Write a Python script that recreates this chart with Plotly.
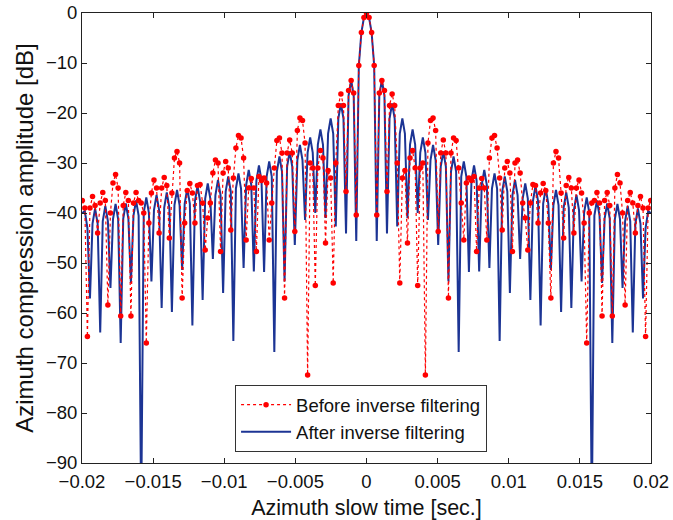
import numpy as np
import plotly.graph_objects as go

# Sampling interval of the read-off grid (ms). The chart is symmetric about t = 0,
# so values are listed for t >= 0 and mirrored.
SAMPLE_MS = 0.18

# "After inverse filtering" (blue), dB, t = 0 ... 19.98 ms
after_right = [
    0, -0.9, -3.9, -10.5,
    -45.6, -16.5, -13.4, -16.5,
    -44.1, -21.1, -18.1, -21.1,
    -42.7, -24.1, -21.1, -24.1,
    -41.0, -26.3, -23.3, -26.3,
    -40.0, -27.9, -24.9, -27.9,
    -41.4, -29.4, -26.4, -29.4,
    -46.4, -30.7, -27.7, -30.7,
    -53.7, -31.7, -28.7, -31.7,
    -67.8, -32.7, -29.7, -32.7,
    -51.8, -33.5, -30.5, -33.5,
    -51.7, -34.4, -31.4, -34.4,
    -51.0, -35.1, -32.1, -35.1,
    -65.6, -35.7, -32.7, -35.7,
    -56.0, -36.4, -33.4, -36.4,
    -49.2, -37.1, -34.1, -37.1,
    -57.4, -37.6, -34.6, -37.6,
    -62.5, -38.1, -35.1, -38.1,
    -51.4, -38.4, -35.4, -38.4,
    -59.8, -38.9, -35.9, -38.9,
    -59.0, -39.4, -36.4, -39.4,
    -53.7, -39.9, -36.9, -39.9,
    -100.0, -40.5, -37.5, -40.5,
    -54.0, -41.1, -38.1, -41.1,
    -66.0, -41.2, -38.2, -41.2,
    -55.0, -41.6, -38.6, -41.6,
    -63.9, -42.1, -39.1, -42.1,
    -57.1, -43.0, -39.6, -40.0,
]

# "Before inverse filtering" (red), dB, same grid
before_right = [
    0, -0.9, -3.9, -10.5,
    -40.4, -16.0, -13.5, -15.5,
    -35.7, -18.5, -16.2, -18.5,
    -30.0, -54.0, -33.0, -31.5,
    -46.0, -29.0, -27.5, -31.0,
    -54.5, -31.0, -30.0, -72.4,
    -26.0, -21.5, -21.0, -23.5,
    -43.7, -28.0, -25.4, -28.0,
    -57.0, -28.0, -25.0, -25.5,
    -31.0, -38.0, -45.4, -34.0,
    -33.0, -33.5, -32.7, -47.7,
    -35.0, -33.1, -35.0, -45.4,
    -29.0, -25.0, -24.5, -27.0,
    -33.0, -43.4, -31.0, -29.7,
    -32.0, -47.7, -30.0, -29.4,
    -32.0, -38.0, -41.0, -47.4,
    -38.0, -34.3, -34.5, -42.0,
    -36.0, -34.1, -35.5, -42.0,
    -57.0, -30.0, -27.7, -29.0,
    -36.0, -45.0, -34.5, -32.9,
    -35.0, -44.0, -35.0, -33.4,
    -36.0, -42.0, -66.0, -40.0,
    -38.0, -37.5, -35.9, -38.0,
    -60.6, -37.5, -35.9, -38.5,
    -60.6, -35.0, -32.3, -34.0,
    -40.0, -58.4, -37.5, -35.9,
    -38.0, -44.0, -38.5, -36.7,
    -39.0, -64.7, -39.0, -37.5,
]

x_tick_vals = [-0.02, -0.015, -0.01, -0.005, 0, 0.005, 0.01, 0.015, 0.02]
x_tick_text = ["\u22120.02", "\u22120.015", "\u22120.01", "\u22120.005", "0",
               "0.005", "0.01", "0.015", "0.02"]
y_tick_vals = [0, -10, -20, -30, -40, -50, -60, -70, -80, -90]
y_tick_text = ["0"] + ["\u2212%d" % (-v) for v in y_tick_vals[1:]]

t_right_ms = np.arange(len(after_right)) * SAMPLE_MS
t_sec = np.concatenate([-t_right_ms[:0:-1], t_right_ms]) / 1000.0
after_db = after_right[:0:-1] + after_right
before_db = before_right[:0:-1] + before_right

FONT = "Liberation Sans, Arial, Helvetica, sans-serif"
TICK_SIZE = 18.5

fig = go.Figure()
fig.add_trace(go.Scatter(
    x=t_sec, y=after_db, mode="lines", name="After inverse filtering",
    line=dict(color="#1c3494", width=2),
))
fig.add_trace(go.Scatter(
    x=t_sec, y=before_db, mode="lines+markers", name="Before inverse filtering",
    line=dict(color="#ff0000", width=1.2, dash="dot"),
    marker=dict(color="#ff0000", size=5.5, symbol="circle"),
))

axis_common = dict(
    showline=True, linecolor="#222222", linewidth=1, mirror="ticks",
    ticks="inside", ticklen=5, tickcolor="#222222", showgrid=False,
    zeroline=False, automargin=False, ticklabeloverflow="allow",
    tickfont=dict(family=FONT, size=TICK_SIZE, color="#111111"),
)

fig.update_layout(
    width=673, height=520,
    margin=dict(l=82, r=22, t=13, b=57),
    paper_bgcolor="white", plot_bgcolor="white",
    font=dict(family=FONT, color="#111111"),
    showlegend=True,
    legend=dict(
        x=0.269, y=0.173, xanchor="left", yanchor="top",
        bgcolor="white", bordercolor="#333333", borderwidth=1,
        font=dict(family=FONT, size=TICK_SIZE, color="#111111"),
        traceorder="reversed", itemwidth=50, tracegroupgap=0,
    ),
    xaxis=dict(
        range=[-0.02, 0.02], tickvals=x_tick_vals, ticktext=x_tick_text,
        ticklabelstandoff=2,
        title=dict(text="Azimuth slow time [sec.]",
                   font=dict(family=FONT, size=21.5), standoff=9),
        **axis_common,
    ),
    yaxis=dict(
        range=[-90, 0], tickvals=y_tick_vals, ticktext=y_tick_text,
        title=dict(text="Azimuth compression amplitude [dB]",
                   font=dict(family=FONT, size=24), standoff=5),
        **axis_common,
    ),
)

# Remove the browser's default 8 px body margin so the figure sits at the page origin.
fig.write_html(
    "out.html",
    config={"displayModeBar": False},
    post_script="document.body.style.margin='0px';",
)
